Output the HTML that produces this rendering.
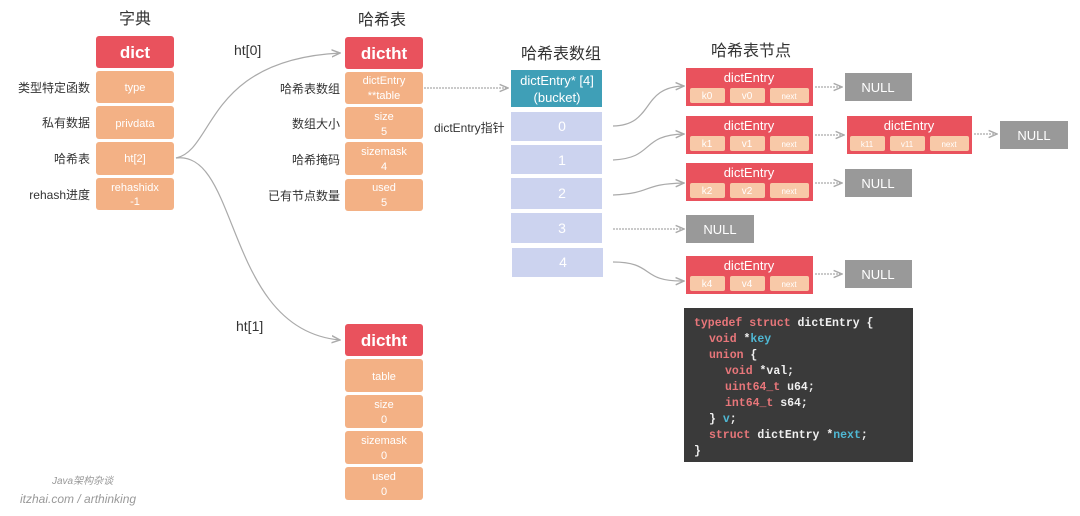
<!DOCTYPE html>
<html><head><meta charset="utf-8"><style>
body{margin:0;background:#fff;}
svg text{font-family:"Liberation Sans","Noto Sans CJK SC",sans-serif;}
.m text{font-family:"Liberation Mono","DejaVu Sans Mono",monospace;font-weight:bold;}
</style></head><body>
<svg width="1080" height="511" viewBox="0 0 1080 511" xmlns="http://www.w3.org/2000/svg">
<defs><marker id="a" markerWidth="8" markerHeight="8" refX="7" refY="4" orient="auto"><path d="M0,1 L7,4 L0,7" fill="none" stroke="#aaa" stroke-width="1.2"/></marker></defs>
<g fill="#333" font-size="16" text-anchor="middle">
<text x="135" y="24">字典</text><text x="382" y="25">哈希表</text>
<text x="561" y="59">哈希表数组</text><text x="751" y="56">哈希表节点</text>
</g>
<g fill="#333" font-size="12" text-anchor="end">
<text x="90" y="92">类型特定函数</text><text x="90" y="127">私有数据</text><text x="90" y="163">哈希表</text><text x="90" y="199">rehash进度</text>
<text x="340" y="93">哈希表数组</text><text x="340" y="128">数组大小</text><text x="340" y="164">哈希掩码</text><text x="340" y="200">已有节点数量</text>
</g>
<g fill="#333" font-size="14"><text x="234" y="55">ht[0]</text><text x="236" y="331">ht[1]</text></g>
<text x="434" y="132" font-size="12" fill="#333">dictEntry指针</text>
<rect x="96" y="36" width="78" height="32" rx="3" fill="#e9525d"/>
<text x="135" y="58" font-size="17" font-weight="bold" fill="#fff" text-anchor="middle">dict</text>
<g fill="#f3b185"><rect x="96" y="71" width="78" height="32" rx="3"/><rect x="96" y="106" width="78" height="33" rx="3"/><rect x="96" y="142" width="78" height="33" rx="3"/><rect x="96" y="178" width="78" height="32" rx="3"/></g>
<g fill="#fff" font-size="11" text-anchor="middle"><text x="135" y="91">type</text><text x="135" y="127">privdata</text><text x="135" y="162">ht[2]</text><text x="135" y="191">rehashidx</text><text x="135" y="205">-1</text></g>
<rect x="345" y="37" width="78" height="32" rx="3" fill="#e9525d"/>
<text x="384" y="59" font-size="17" font-weight="bold" fill="#fff" text-anchor="middle">dictht</text>
<g fill="#f3b185"><rect x="345" y="72" width="78" height="32" rx="3"/><rect x="345" y="107" width="78" height="32" rx="3"/><rect x="345" y="142" width="78" height="33" rx="3"/><rect x="345" y="179" width="78" height="32" rx="3"/></g>
<g fill="#fff" font-size="11" text-anchor="middle"><text x="384" y="84">dictEntry</text><text x="384" y="99">**table</text><text x="384" y="120">size</text><text x="384" y="135">5</text><text x="384" y="155">sizemask</text><text x="384" y="170">4</text><text x="384" y="191">used</text><text x="384" y="206">5</text></g>
<rect x="345" y="324" width="78" height="32" rx="3" fill="#e9525d"/>
<text x="384" y="346" font-size="17" font-weight="bold" fill="#fff" text-anchor="middle">dictht</text>
<g fill="#f3b185"><rect x="345" y="359" width="78" height="33" rx="3"/><rect x="345" y="395" width="78" height="33" rx="3"/><rect x="345" y="431" width="78" height="33" rx="3"/><rect x="345" y="467" width="78" height="33" rx="3"/></g>
<g fill="#fff" font-size="11" text-anchor="middle"><text x="384" y="380">table</text><text x="384" y="408">size</text><text x="384" y="423">0</text><text x="384" y="444">sizemask</text><text x="384" y="459">0</text><text x="384" y="480">used</text><text x="384" y="495">0</text></g>
<g fill="none" stroke="#aaa" stroke-width="1.2" marker-end="url(#a)">
<path d="M176,158 C215,150 205,60 340,53"/>
<path d="M176,158 C240,150 225,330 340,340" marker-end=""/>
<path d="M424,88 L508,88" stroke-dasharray="2,1"/>
<path d="M613,126 C655,125 640,87 684,86"/>
<path d="M613,160 C655,158 640,135 684,134"/>
<path d="M613,195 C655,193 640,184 684,183"/>
<path d="M613,229 L684,229" stroke-dasharray="2,1"/>
<path d="M613,262 C655,262 640,282 684,281"/>
<path d="M815,87 L842,87" stroke-dasharray="2,1"/><path d="M815,135 L844,135" stroke-dasharray="2,1"/><path d="M974,134 L997,134" stroke-dasharray="2,1"/><path d="M815,183 L842,183" stroke-dasharray="2,1"/><path d="M815,274 L842,274" stroke-dasharray="2,1"/>
</g>
<rect x="511" y="70" width="91" height="37" fill="#3f9fb7"/>
<g fill="#fff" font-size="13" text-anchor="middle"><text x="557" y="85">dictEntry* [4]</text><text x="557" y="102">(bucket)</text></g>
<g fill="#ccd3ef"><rect x="511" y="112" width="91" height="29"/><rect x="511" y="145" width="91" height="29"/><rect x="511" y="178" width="91" height="31"/><rect x="511" y="213" width="91" height="30"/><rect x="512" y="248" width="91" height="29"/></g>
<g fill="#fff" font-size="14" text-anchor="middle"><text x="562" y="131">0</text><text x="562" y="165">1</text><text x="562" y="198">2</text><text x="562" y="233">3</text><text x="563" y="267">4</text></g>
<g font-size="13" text-anchor="middle">
<g transform="translate(686,68)"><rect width="127" height="38" fill="#e9525d"/><text x="63" y="14" fill="#fff">dictEntry</text><g fill="#f8c9a8"><rect x="4" y="20" width="35" height="15" rx="2"/><rect x="44" y="20" width="35" height="15" rx="2"/><rect x="84" y="20" width="39" height="15" rx="2"/></g><g fill="#fff" font-size="10"><text x="21" y="31">k0</text><text x="61" y="31">v0</text><text x="103" y="31" font-size="8">next</text></g></g>
<g transform="translate(686,116)"><rect width="127" height="38" fill="#e9525d"/><text x="63" y="14" fill="#fff">dictEntry</text><g fill="#f8c9a8"><rect x="4" y="20" width="35" height="15" rx="2"/><rect x="44" y="20" width="35" height="15" rx="2"/><rect x="84" y="20" width="39" height="15" rx="2"/></g><g fill="#fff" font-size="10"><text x="21" y="31">k1</text><text x="61" y="31">v1</text><text x="103" y="31" font-size="8">next</text></g></g>
<g transform="translate(847,116)"><rect width="125" height="38" fill="#e9525d"/><text x="62" y="14" fill="#fff">dictEntry</text><g fill="#f8c9a8"><rect x="3" y="20" width="35" height="15" rx="2"/><rect x="43" y="20" width="35" height="15" rx="2"/><rect x="83" y="20" width="39" height="15" rx="2"/></g><g fill="#fff" font-size="8"><text x="20" y="31">k11</text><text x="60" y="31">v11</text><text x="102" y="31">next</text></g></g>
<g transform="translate(686,163)"><rect width="127" height="38" fill="#e9525d"/><text x="63" y="14" fill="#fff">dictEntry</text><g fill="#f8c9a8"><rect x="4" y="20" width="35" height="15" rx="2"/><rect x="44" y="20" width="35" height="15" rx="2"/><rect x="84" y="20" width="39" height="15" rx="2"/></g><g fill="#fff" font-size="10"><text x="21" y="31">k2</text><text x="61" y="31">v2</text><text x="103" y="31" font-size="8">next</text></g></g>
<g transform="translate(686,256)"><rect width="127" height="38" fill="#e9525d"/><text x="63" y="14" fill="#fff">dictEntry</text><g fill="#f8c9a8"><rect x="4" y="20" width="35" height="15" rx="2"/><rect x="44" y="20" width="35" height="15" rx="2"/><rect x="84" y="20" width="39" height="15" rx="2"/></g><g fill="#fff" font-size="10"><text x="21" y="31">k4</text><text x="61" y="31">v4</text><text x="103" y="31" font-size="8">next</text></g></g>
</g>
<g fill="#999"><rect x="845" y="73" width="67" height="28"/><rect x="1000" y="121" width="68" height="28"/><rect x="845" y="169" width="67" height="28"/><rect x="686" y="215" width="68" height="28"/><rect x="845" y="260" width="67" height="28"/></g>
<g fill="#fff" font-size="13" text-anchor="middle"><text x="878" y="92">NULL</text><text x="1034" y="140">NULL</text><text x="878" y="188">NULL</text><text x="720" y="234">NULL</text><text x="878" y="279">NULL</text></g>
<rect x="684" y="308" width="229" height="154" fill="#3a3a3a"/>
<g class="m" font-size="11.5" fill="#f0f0f0">
<text x="694" y="326"><tspan fill="#e8767a">typedef struct</tspan> dictEntry {</text>
<text x="709" y="342"><tspan fill="#e8767a">void</tspan> *<tspan fill="#4fb8d4">key</tspan></text>
<text x="709" y="358"><tspan fill="#e8767a">union</tspan> {</text>
<text x="725" y="374"><tspan fill="#e8767a">void</tspan> *val;</text>
<text x="725" y="390"><tspan fill="#e8767a">uint64_t</tspan> u64;</text>
<text x="725" y="406"><tspan fill="#e8767a">int64_t</tspan> s64;</text>
<text x="709" y="422">} <tspan fill="#4fb8d4">v</tspan>;</text>
<text x="709" y="438"><tspan fill="#e8767a">struct</tspan> dictEntry *<tspan fill="#4fb8d4">next</tspan>;</text>
<text x="694" y="454">}</text>
</g>
<g fill="#999" font-style="italic"><text x="52" y="484" font-size="10">Java架构杂谈</text><text x="20" y="503" font-size="12">itzhai.com / arthinking</text></g>
</svg>
</body></html>
